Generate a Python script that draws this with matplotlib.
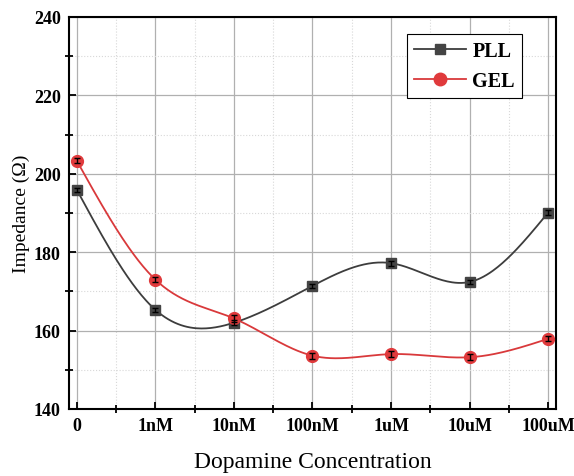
import numpy as np
import matplotlib.pyplot as plt
from matplotlib.ticker import MultipleLocator

plt.rcParams['font.family'] = ['Liberation Serif', 'DejaVu Serif']

labels = ['0', '1nM', '10nM', '100nM', '1uM', '10uM', '100uM']
pll = [195.9, 165.3, 162.0, 171.4, 177.2, 172.4, 190.1]
pll_err = [0.6, 0.5, 0.6, 0.5, 0.6, 0.5, 0.6]
gel = [203.3, 173.0, 163.1, 153.6, 154.0, 153.2, 157.9]
gel_err = [0.6, 0.7, 0.8, 0.8, 0.8, 0.8, 0.6]


def natural_spline(x, y, n=300):
    # natural cubic spline through the points
    x = np.asarray(x, float)
    y = np.asarray(y, float)
    k = len(x)
    h = np.diff(x)
    A = np.zeros((k, k))
    b = np.zeros(k)
    A[0, 0] = A[-1, -1] = 1
    for i in range(1, k - 1):
        A[i, i - 1] = h[i - 1]
        A[i, i] = 2 * (h[i - 1] + h[i])
        A[i, i + 1] = h[i]
        b[i] = 6 * ((y[i + 1] - y[i]) / h[i] - (y[i] - y[i - 1]) / h[i - 1])
    m = np.linalg.solve(A, b)
    xs = np.linspace(x[0], x[-1], n)
    idx = np.clip(np.searchsorted(x, xs) - 1, 0, k - 2)
    x0, x1 = x[idx], x[idx + 1]
    hh = x1 - x0
    t0, t1 = x1 - xs, xs - x0
    ys = (m[idx] * t0 ** 3 + m[idx + 1] * t1 ** 3) / (6 * hh) \
        + (y[idx] / hh - m[idx] * hh / 6) * t0 \
        + (y[idx + 1] / hh - m[idx + 1] * hh / 6) * t1
    return xs, ys


x = np.arange(len(labels))

fig = plt.figure(figsize=(5.74, 4.77), dpi=100)
ax = fig.add_axes([0.1202, 0.1405, 0.8484, 0.8218])

pll_color = '#3d3d3d'
gel_color = '#d9393b'

xs, ys = natural_spline(x, pll)
ax.plot(xs, ys, color=pll_color, lw=1.3, zorder=3)
xs, ys = natural_spline(x, gel)
ax.plot(xs, ys, color=gel_color, lw=1.3, zorder=3)

ax.plot(x, pll, 's', color='#444444', ms=7, zorder=4)
ax.plot(x, gel, 'o', color='#e03a3c', ms=8.5, zorder=4)
ax.errorbar(x, pll, yerr=pll_err, fmt='none', ecolor='black', capsize=2.5, elinewidth=1, zorder=5)
ax.errorbar(x, gel, yerr=gel_err, fmt='none', ecolor='black', capsize=2.5, elinewidth=1, zorder=5)

# proxy handles for the legend
h1, = ax.plot([], [], color=pll_color, lw=1.3, marker='s', ms=7, mfc='#444444', mec='#444444', label='PLL')
h2, = ax.plot([], [], color=gel_color, lw=1.3, marker='o', ms=9, mfc='#e03a3c', mec='#e03a3c', label='GEL')
leg = ax.legend(handles=[h1, h2], loc='upper right', bbox_to_anchor=(0.93, 0.957),
                fancybox=False, edgecolor='black', framealpha=1, handlelength=2.6,
                borderpad=0.35, labelspacing=0.5, handletextpad=0.3, borderaxespad=0,
                prop={'weight': 'bold', 'size': 14.5})
leg.get_frame().set_linewidth(0.8)

ax.set_xlim(-0.1, 6.1)
ax.set_ylim(140, 240)
ax.set_xticks(x)
ax.set_xticklabels(labels)
ax.xaxis.set_minor_locator(MultipleLocator(0.5))
ax.yaxis.set_major_locator(MultipleLocator(20))
ax.yaxis.set_minor_locator(MultipleLocator(10))

ax.grid(which='major', color='#b0b0b0', lw=0.9, ls='-')
ax.grid(which='minor', color='#d8d8d8', lw=0.8, ls=':')
ax.set_axisbelow(True)

ax.tick_params(which='major', direction='in', length=5, width=1.3, labelsize=13, pad=6)
ax.tick_params(which='minor', direction='inout', length=6, width=1.3)
for lab in ax.get_xticklabels() + ax.get_yticklabels():
    lab.set_fontweight('bold')

for s in ax.spines.values():
    s.set_linewidth(1.5)

ax.set_xlabel('Dopamine Concentration', fontsize=17, labelpad=12)
ax.set_ylabel('Impedance (Ω)', fontsize=14, labelpad=3)

fig.savefig('out.png', dpi=100)
